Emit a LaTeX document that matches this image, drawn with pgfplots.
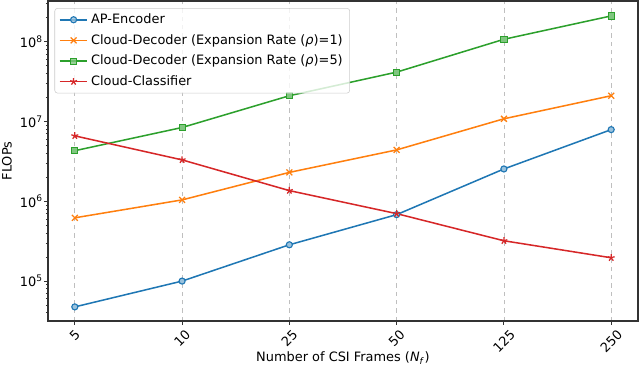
\documentclass[border=0pt]{standalone}
\usepackage{fontspec}
\setmainfont{DejaVu Sans}
\usepackage{pgfplots}
\pgfplotsset{compat=1.18}

\definecolor{tabblue}{HTML}{1F77B4}
\definecolor{taborange}{HTML}{FF7F0E}
\definecolor{tabgreen}{HTML}{2CA02C}
\definecolor{tabred}{HTML}{D62728}

\begin{document}
\fontsize{9.3}{11.2}\selectfont
\begin{tikzpicture}
\useasboundingbox (-34.56pt,-36pt) rectangle (426.24pt,231.12pt);
\begin{axis}[
    at={(0,0)}, anchor=south west,
    scale only axis,
    width=424.8pt, height=230.4pt,
    ymode=log,
    xmin=-0.25, xmax=5.25,
    ymin=31623, ymax=3.23e8,
    xtick={0,1,2,3,4,5},
    xticklabels={\rotatebox{45}{5},\rotatebox{45}{10},\rotatebox{45}{25},\rotatebox{45}{50},\rotatebox{45}{125},\rotatebox{45}{250}},
    ytick={1e5,1e6,1e7,1e8},
    yticklabels={10\textsuperscript{5},10\textsuperscript{6},10\textsuperscript{7},10\textsuperscript{8}},
    minor ytick={4e4,5e4,6e4,7e4,8e4,9e4,2e5,3e5,4e5,5e5,6e5,7e5,8e5,9e5,2e6,3e6,4e6,5e6,6e6,7e6,8e6,9e6,2e7,3e7,4e7,5e7,6e7,7e7,8e7,9e7,2e8,3e8},
    tick align=outside,
    major tick length=2.6pt,
    minor tick length=1.5pt,
    tick style={black!80, line width=0.6pt},
    xtick pos=bottom, ytick pos=left,
    axis line style={black!80, line width=0.8pt},
    xmajorgrids=true,
    grid style={dashed, black!25, line width=0.5pt},
    xticklabel style={anchor=north, inner sep=0pt, yshift=-3pt},
    yticklabel style={inner xsep=1pt},
    xlabel={Number of CSI Frames (\textit{N}\textsubscript{\textit{f}})},
    ylabel={FLOPs},
    xlabel style={at={(axis description cs:0.5,-0.1156)}, anchor=center},
    ylabel style={at={(axis description cs:-0.0695,0.5)}, anchor=center},
    legend style={at={(axis description cs:0.011,0.978)}, anchor=north west,
        draw=black!20, rounded corners=2pt, fill=white, fill opacity=0.8, text opacity=1,
        inner xsep=3pt, inner ysep=2pt, row sep=2.4pt},
    legend cell align=left,
    legend image code/.code={\draw[mark repeat=2,mark phase=2] plot coordinates {(0pt,0pt)(10pt,0pt)(20pt,0pt)};},
    every axis plot/.append style={line width=1.1pt},
]
\addplot[color=tabblue, mark=*, mark size=2.2pt, mark options={draw=tabblue, fill=tabblue!45, line width=0.8pt}] coordinates {
    (0,4.75e4) (1,1.0e5) (2,2.85e5) (3,6.8e5) (4,2.54e6) (5,7.9e6)
};
\addlegendentry{AP-Encoder}
\addplot[color=taborange, mark=x, mark size=3pt, mark options={line width=0.9pt}] coordinates {
    (0,6.2e5) (1,1.04e6) (2,2.3e6) (3,4.4e6) (4,1.08e7) (5,2.1e7)
};
\addlegendentry{Cloud-Decoder (Expansion Rate (\textit{ρ})=1)}
\addplot[color=tabgreen, mark=square*, mark size=2.2pt, mark options={draw=tabgreen, fill=tabgreen!60, line width=0.6pt}] coordinates {
    (0,4.3e6) (1,8.4e6) (2,2.1e7) (3,4.15e7) (4,1.07e8) (5,2.1e8)
};
\addlegendentry{Cloud-Decoder (Expansion Rate (\textit{ρ})=5)}
\addplot[color=tabred, mark=star, mark size=2.6pt, mark options={line width=0.9pt}] coordinates {
    (0,6.6e6) (1,3.3e6) (2,1.36e6) (3,7.0e5) (4,3.2e5) (5,1.96e5)
};
\addlegendentry{Cloud-Classifier}
\end{axis}
\end{tikzpicture}
\end{document}
